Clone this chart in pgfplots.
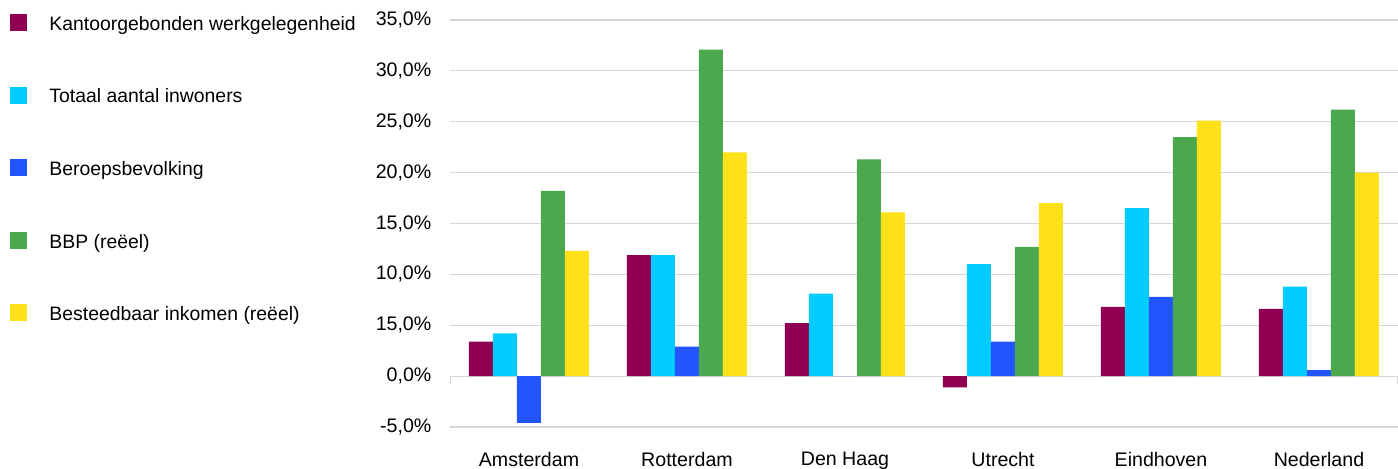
\documentclass[border=0pt]{standalone}
\usepackage{fontspec}
\setmainfont{Liberation Sans}
\usepackage{pgfplots}
\pgfplotsset{compat=1.18}
\definecolor{cKant}{HTML}{8F0052}
\definecolor{cCyan}{HTML}{00CCFF}
\definecolor{cBlue}{HTML}{2255FF}
\definecolor{cGreen}{HTML}{4CA84C}
\definecolor{cYellow}{HTML}{FFE11A}
\definecolor{cGrid}{HTML}{D6D6D6}
\begin{document}
\begin{tikzpicture}
\useasboundingbox (-225pt,-20.5pt) rectangle (474pt,213.5pt);
\begin{axis}[
  at={(0,0)}, anchor=south west,
  width=474pt, height=203.5pt, scale only axis,
  xmin=-0.5, xmax=5.5, ymin=-5, ymax=35,
  ybar=0pt, bar width=12pt,
  xtick=data,
  xticklabels={Amsterdam,Rotterdam,Den Haag,Utrecht,Eindhoven,Nederland},
  ytick={-5,0,5,10,15,20,25,30,35},
  yticklabels={{-5,0\%},{0,0\%},{15,0\%},{10,0\%},{15,0\%},{20,0\%},{25,0\%},{30,0\%},{35,0\%}},
  axis line style={draw=none}, major tick length=0pt,
  ymajorgrids, grid style={color=cGrid, line width=0.6pt},
  tick label style={font=\fontsize{9.8}{12}\selectfont},
  xticklabel style={yshift=-9pt},
  yticklabel style={xshift=-5.8pt},
  legend cell align=left,
  legend style={at={(-0.4641,1.0161)}, anchor=north west, draw=none, fill=none,
    inner sep=0pt, font=\fontsize{9.7}{12}\selectfont,
    nodes={inner sep=0pt, anchor=west, text height=7pt, text depth=2pt},
    /tikz/column sep=11pt, /tikz/row sep=26.1pt},
  legend image code/.code={\fill[#1] (0pt,-2.78pt) rectangle (8.5pt,5.72pt);},
]
\addplot[fill=cKant, draw=none] coordinates {(0,3.4) (1,11.9) (2,5.2) (3,-1.1) (4,6.8) (5,6.6)};
\addlegendentry{Kantoorgebonden werkgelegenheid}
\addplot[fill=cCyan, draw=none] coordinates {(0,4.2) (1,11.9) (2,8.1) (3,11.0) (4,16.5) (5,8.8)};
\addlegendentry{Totaal aantal inwoners}
\addplot[fill=cBlue, draw=none] coordinates {(0,-4.6) (1,2.9) (2,0) (3,3.4) (4,7.8) (5,0.6)};
\addlegendentry{Beroepsbevolking}
\addplot[fill=cGreen, draw=none] coordinates {(0,18.2) (1,32.1) (2,21.3) (3,12.7) (4,23.5) (5,26.2)};
\addlegendentry{BBP (reëel)}
\addplot[fill=cYellow, draw=none] coordinates {(0,12.3) (1,22.0) (2,16.1) (3,17.0) (4,25.1) (5,20.0)};
\addlegendentry{Besteedbaar inkomen (reëel)}
\draw[cGrid, line width=0.6pt] (axis cs:-0.5,0) -- ([yshift=-4pt]axis cs:-0.5,0);
\draw[cGrid, line width=0.6pt] (axis cs:5.5,0) -- ([yshift=-4pt]axis cs:5.5,0);
\draw[cGrid, line width=0.6pt] (axis cs:-0.5,-5) -- ([xshift=-9pt]axis cs:-0.5,-5);
\end{axis}
\end{tikzpicture}
\end{document}
